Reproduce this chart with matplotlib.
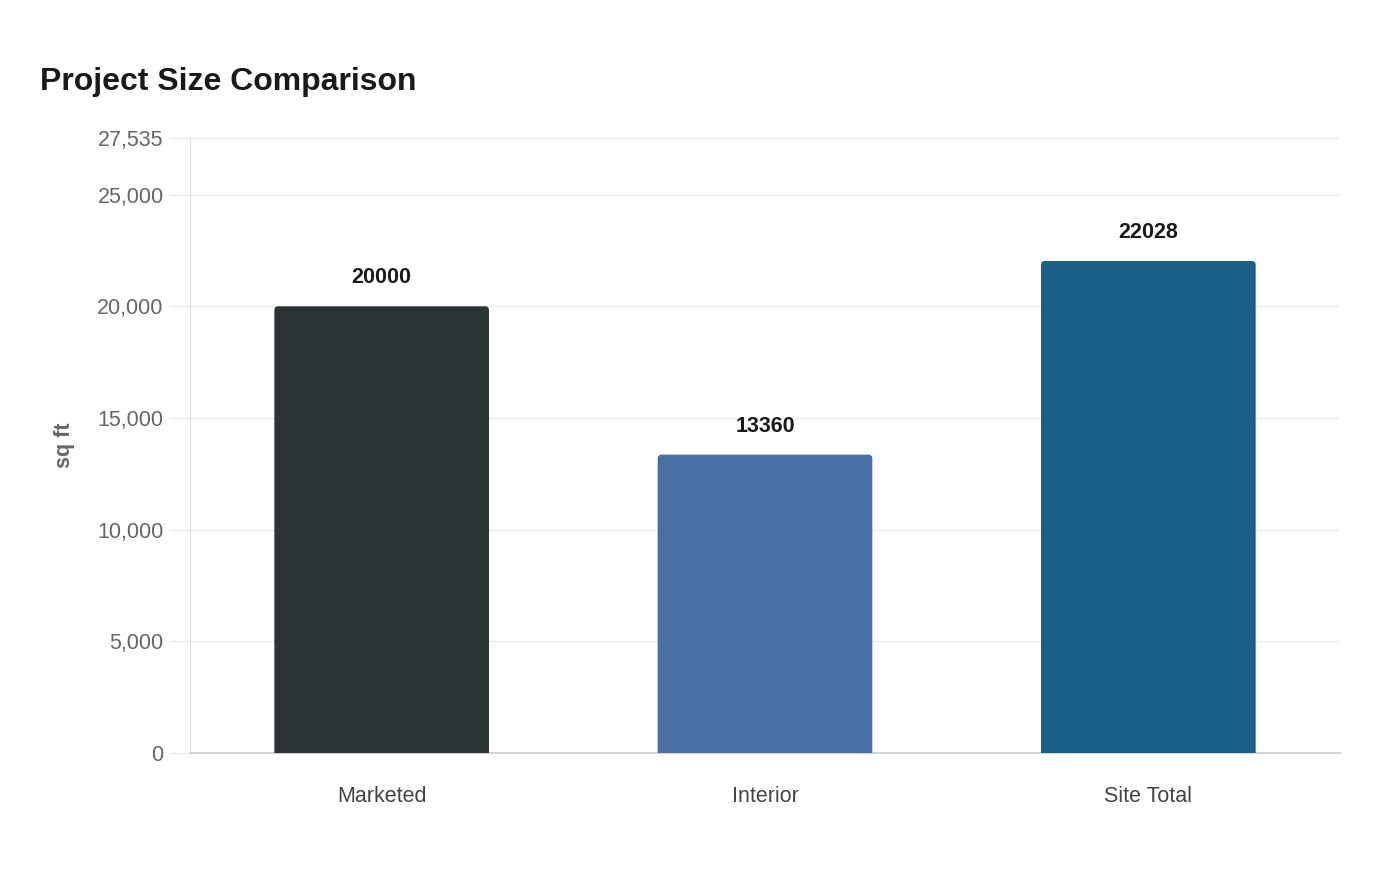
import matplotlib
matplotlib.use("Agg")
import matplotlib.pyplot as plt
from matplotlib.patches import FancyBboxPatch

# Chart data
categories = ["Marketed", "Interior", "Site Total"]
values = [20000, 13360, 22028]
bar_colors = ["#2d3436", "#4a6fa5", "#186088"]
y_ticks = [0, 5000, 10000, 15000, 20000, 25000, 27535]
y_max = 27535

plt.rcParams['font.family'] = ['Liberation Sans', 'DejaVu Sans']

fig = plt.figure(figsize=(14, 8.8), dpi=100)
ax = fig.add_axes([190 / 1400, 1 - 753 / 880, 1150 / 1400, 615 / 880])

ax.set_xlim(-0.5, len(categories) - 0.5)
ax.set_ylim(0, y_max)

# bars with slightly rounded tops (bottom corners pushed below the axis and clipped)
bar_width = 0.56
px_x = 1150 / len(categories)      # pixels per x unit
px_y = 615 / y_max                 # pixels per y unit
radius = 4 / px_x
aspect = px_x / px_y
for i, (val, col) in enumerate(zip(values, bar_colors)):
    extra = radius * aspect * 2
    patch = FancyBboxPatch((i - bar_width / 2, -extra), bar_width, val + extra,
                           boxstyle=f"round,pad=0,rounding_size={radius}",
                           mutation_aspect=aspect, facecolor=col,
                           edgecolor="none", zorder=3, clip_on=True)
    ax.add_patch(patch)
    ax.annotate(f"{val}", (i, val), xytext=(0, 13), textcoords="offset points",
                ha="center", va="bottom", fontsize=15.5, fontweight="bold",
                color="#1a1a1a")

ax.set_xticks(range(len(categories)))
ax.set_xticklabels(categories, fontsize=15.5, color="#444444")
ax.tick_params(axis="x", length=0, pad=24)

ax.set_yticks(y_ticks)
ax.set_yticklabels([f"{t:,}" for t in y_ticks], fontsize=15.5, color="#666666")
ax.tick_params(axis="y", length=15, width=1, color="#ebebeb", pad=4)

ax.grid(axis="y", color="#ebebeb", linewidth=1, zorder=0)
ax.set_axisbelow(True)

for side in ["top", "right"]:
    ax.spines[side].set_visible(False)
ax.spines["left"].set_color("#e0e0e0")
ax.spines["bottom"].set_color("#cccccc")
ax.spines["bottom"].set_linewidth(1.2)

ax.set_ylabel("sq ft", fontsize=15.5, fontweight="bold", color="#666666", labelpad=16)

fig.text(40 / 1400, 1 - 82 / 880, "Project Size Comparison", fontsize=23,
         fontweight="bold", color="#1a1a1a", ha="left", va="center")

fig.savefig("out.png", dpi=100, facecolor="white")
